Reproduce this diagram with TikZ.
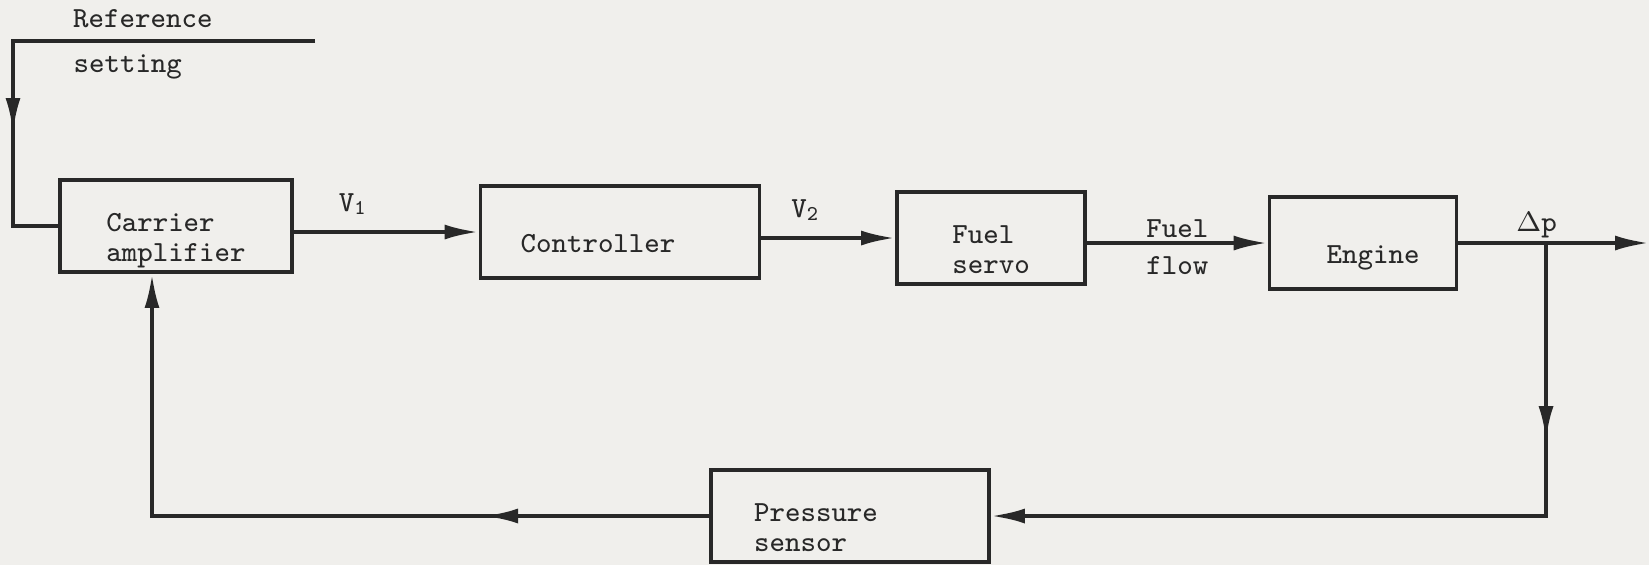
\documentclass[tikz,border=0pt]{standalone}
\usetikzlibrary{arrows.meta, positioning, decorations.markings}

\definecolor{paper}{RGB}{240,239,236}
\definecolor{ink}{RGB}{40,40,40}

% typed text in a block sits a little below the middle
\newcommand{\blocktext}[1]{\raisebox{-4.2pt}[\height][\depth]{\begin{tabular}{@{}l@{}}#1\end{tabular}}}

\begin{document}
\begin{tikzpicture}[
        node distance = 4cm,
        on grid,
        line width = 1.1pt,
        draw = ink,
        >= {Latex[length = 3.4mm, width = 1.5mm]},
        every node/.style = {text = ink, font = \ttfamily\fontsize{8.3}{8.6}\selectfont},
        block/.style = {draw = ink, line width = 1.1pt, minimum height = 0.92cm},
        mid arrow/.style = {postaction = {decorate},
            decoration = {markings, mark = at position #1 with {\arrow{>}}}}
    ]

      \fill[paper] (0,0) rectangle (16.49,-5.65);
      \useasboundingbox (0,0) rectangle (16.49,-5.65);

      % forward path
      \node[block, minimum width = 2.32cm] (amp) at (1.76,-2.26) {\blocktext{Carrier\\amplifier}};
      \node[block, minimum width = 2.79cm] (ctrl)  [below right = 0.06cm and 4.44cm of amp]   {\blocktext{Controller\hspace*{0.44cm}}};
      \node[block, minimum width = 1.88cm] (servo) [below right = 0.06cm and 3.71cm of ctrl]  {\blocktext{Fuel\\servo}};
      \node[block, minimum width = 1.87cm] (eng)   [below right = 0.05cm and 3.72cm of servo] {\blocktext{\hspace*{0.2cm}Engine}};

      % feedback path
      \node[block, minimum width = 2.78cm] (sens)  [below right = 2.84cm and 2.30cm of ctrl]  {\blocktext{Pressure\hspace*{0.68cm}\\sensor}};

      \coordinate (corner) at (0.13,-0.41);
      \coordinate[right = 3.02cm of corner] (refin);
      \coordinate[right = 2.86cm of eng] (out);
      \coordinate[right = 1.83cm of eng] (tap);
      \coordinate[left = 0.24cm of amp.south] (fb);

      \draw[ink, mid arrow = 3.93cm] (refin) -- node[above, pos = 0.57] {Reference}
                                                node[below, pos = 0.62] {setting} (corner) |- (amp);

      \draw[ink, ->] (amp.east |- ctrl)    -- node[above = 1pt, pos = 0.32] {V$_\mathtt{1}$} (ctrl);
      \draw[ink, ->] (ctrl.east |- servo)  -- node[above = 1pt, pos = 0.33] {V$_\mathtt{2}$} (servo);
      \draw[ink, ->] (servo.east |- eng)   -- node[above, inner sep = 1pt] {Fuel} node[below, inner sep = 3.3pt] {flow} (eng);
      \draw[ink, ->] (eng) -- node[above, inner sep = 1pt, pos = 0.41] {$\Delta$p} (out);

      \draw[ink, ->, mid arrow = 1.97cm] (tap) |- (sens);
      \draw[ink, ->, mid arrow = 2.25cm] (sens) -| (fb);

    \end{tikzpicture}
\end{document}
